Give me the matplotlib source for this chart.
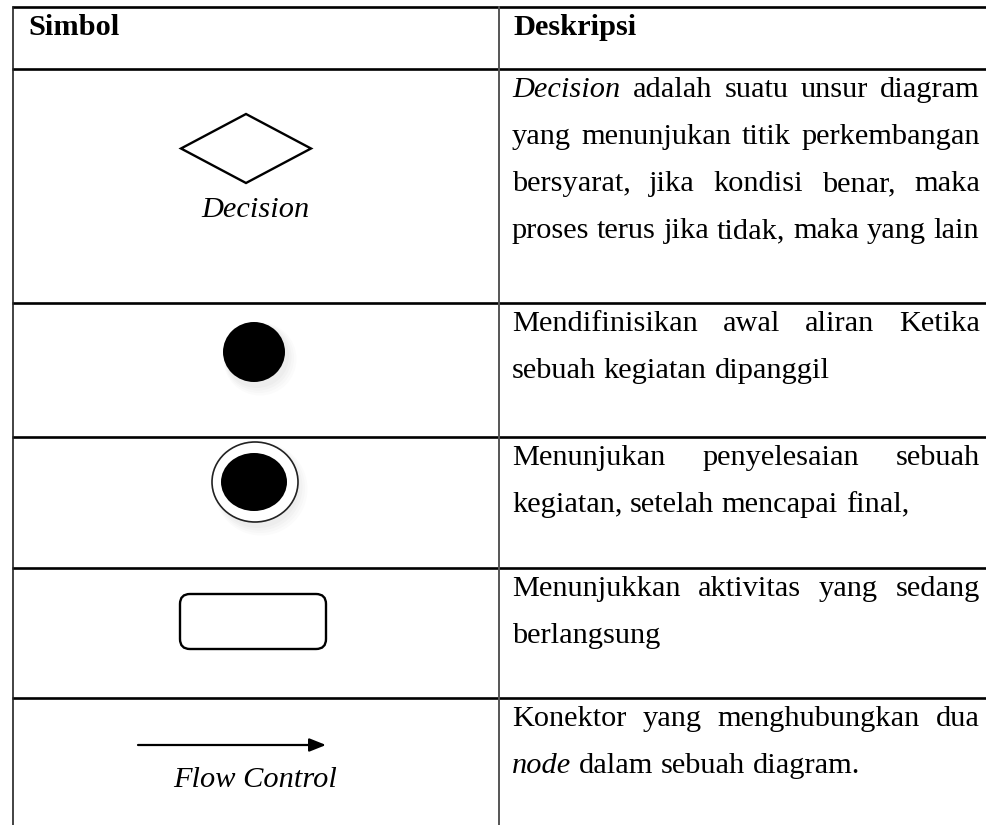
import matplotlib
matplotlib.use("Agg")
import matplotlib.pyplot as plt
from matplotlib.patches import Polygon, Circle, Ellipse, FancyBboxPatch

# ---------------- data ----------------
headers = ["Simbol", "Deskripsi"]
symbol_kinds = ["decision", "initial", "final", "activity", "flow"]
symbol_captions = ["Decision", "", "", "", "Flow Control"]
desc_decision = ["*Decision* adalah suatu unsur diagram",
                 "yang menunjukan titik perkembangan",
                 "bersyarat, jika kondisi benar, maka",
                 "proses terus jika tidak, maka yang lain"]
desc_initial = ["Mendifinisikan awal aliran Ketika",
                "sebuah kegiatan dipanggil"]
desc_final = ["Menunjukan penyelesaian sebuah",
              "kegiatan, setelah mencapai final,"]
desc_activity = ["Menunjukkan aktivitas yang sedang",
                 "berlangsung"]
desc_flow = ["Konektor yang menghubungkan dua",
             "*node* dalam sebuah diagram."]
descriptions = [desc_decision, desc_initial, desc_final, desc_activity, desc_flow]

# ---------------- layout ----------------
W, H = 986, 825
row_lines = [7, 69, 303, 437, 568, 698]
x_left, x_mid, x_right = 13, 499, 986
text_x0, text_x1 = 512, 980
line_gap = 47
base_off = 28
sym_cx = 255
FONT = "Liberation Serif"
FS = 21.9

fig = plt.figure(figsize=(W / 100, H / 100), dpi=100)
ax = fig.add_axes([0, 0, 1, 1])
ax.set_xlim(0, W)
ax.set_ylim(H, 0)
ax.axis("off")
renderer = fig.canvas.get_renderer()


def tw(s, style="normal", weight="normal"):
    t = ax.text(0, 0, s, fontsize=FS, family=FONT, style=style, weight=weight)
    w = t.get_window_extent(renderer).width
    t.remove()
    return w


space_w = tw("a a") - tw("aa")


def draw_line(line, y, justify):
    toks = []
    for tok in line.split(" "):
        if tok.startswith("*") and tok.endswith("*"):
            toks.append((tok.strip("*"), "italic"))
        else:
            toks.append((tok, "normal"))
    widths = [tw(t, s) for t, s in toks]
    if justify and len(toks) > 1:
        gap = (text_x1 - text_x0 - sum(widths)) / (len(toks) - 1)
    else:
        gap = space_w
    x = text_x0
    for (t, s), w in zip(toks, widths):
        ax.text(x, y, t, fontsize=FS, family=FONT, style=s, va="baseline", ha="left")
        x += w + gap


# grid lines
for y in row_lines:
    ax.plot([x_left - 1, x_right], [y, y], color="black", lw=1.9, solid_capstyle="butt")
ax.plot([x_left, x_left], [row_lines[0], H], color="#222222", lw=1.2)
ax.plot([x_mid, x_mid], [row_lines[0], H], color="#555555", lw=1.4)

# headers
ax.text(28, row_lines[0] + base_off, headers[0], fontsize=FS, family=FONT,
        weight="bold", va="baseline")
ax.text(text_x0 + 1, row_lines[0] + base_off, headers[1], fontsize=FS, family=FONT,
        weight="bold", va="baseline")

# descriptions
for i, lines in enumerate(descriptions):
    top = row_lines[i + 1]
    for j, ln in enumerate(lines):
        draw_line(ln, top + base_off + j * line_gap, justify=(j < len(lines) - 1))


def shadow(cx, cy, r):
    for k, a in enumerate([0.04, 0.04, 0.03, 0.03]):
        ax.add_patch(Circle((cx + 3 + k, cy + 4 + k), r + 2 + k * 1.5,
                            color="#888888", alpha=a, lw=0))


# symbols
for i, kind in enumerate(symbol_kinds):
    top = row_lines[i + 1]
    if kind == "decision":
        cy = 148.5
        ax.add_patch(Polygon([(sym_cx - 74, cy), (sym_cx - 9, cy - 34.5),
                              (sym_cx + 56, cy), (sym_cx - 9, cy + 34.5)],
                             closed=True, fill=False, ec="black", lw=1.7,
                             joinstyle="miter"))
    elif kind == "initial":
        shadow(254, 352, 30)
        ax.add_patch(Ellipse((254, 352), 62, 60, color="black", lw=0))
    elif kind == "final":
        shadow(255, 482, 40)
        ax.add_patch(Ellipse((255, 482), 86, 80, fc="white", ec="#222222", lw=1.2))
        ax.add_patch(Ellipse((254, 482), 66, 58, color="black", lw=0))
    elif kind == "activity":
        ax.add_patch(FancyBboxPatch((180, 594), 146, 55,
                                    boxstyle="round,pad=0,rounding_size=10",
                                    fc="white", ec="black", lw=1.7))
    elif kind == "flow":
        ax.annotate("", xy=(326, 745), xytext=(138, 745),
                    arrowprops=dict(arrowstyle="-|>,head_length=1.0,head_width=0.4",
                                    color="black", lw=1.6, shrinkA=0, shrinkB=0))
    cap = symbol_captions[i]
    if cap:
        cap_y = 217 if kind == "decision" else 787
        ax.text(sym_cx, cap_y, cap, fontsize=FS, family=FONT, style="italic",
                ha="center", va="baseline")

fig.savefig("out.png", dpi=100, facecolor="white")
